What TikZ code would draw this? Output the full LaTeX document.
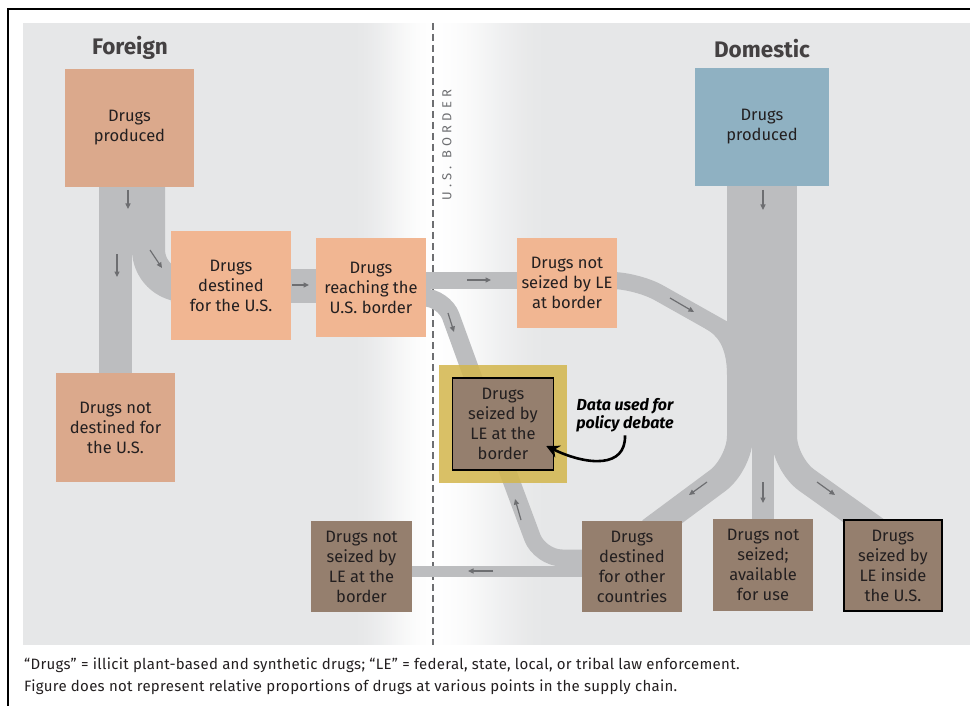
\documentclass[tikz,border=0pt]{standalone}
\usepackage{fontspec}
\setmainfont{Fira Sans}
\usetikzlibrary{positioning,arrows.meta,calc,backgrounds}

\definecolor{panel}{HTML}{E6E7E8}
\definecolor{stream}{HTML}{BCBDBF}
\definecolor{glyph}{HTML}{6D6E71}
\definecolor{ink}{HTML}{231F20}
\definecolor{fdark}{HTML}{DBA98C}
\definecolor{flight}{HTML}{F1B692}
\definecolor{dblue}{HTML}{8FB1C2}
\definecolor{brown}{HTML}{957F6E}
\definecolor{halo}{HTML}{D3B64C}
\colorlet{paper}{white!96!panel}

\pgfdeclarelayer{back}
\pgfsetlayers{back,background,main}

\tikzset{
  box/.style={rectangle, align=center, text=ink, inner sep=2pt},
  flow/.style={draw=stream, line cap=butt},
  flowtip/.style={draw=glyph, line width=1.2pt, -{Triangle[length=5.5pt,width=5pt]}},
  headline/.style={font=\fontsize{22.5}{26}\selectfont\bfseries, text=ink!85},
  note/.style={font=\fontsize{15}{17}\selectfont\addfontfeature{LetterSpace=2}, text=ink, anchor=west, inner sep=0pt},
}

\begin{document}
\begin{tikzpicture}[x=1pt, y=-1pt, font=\fontsize{16.5}{20}\selectfont]
\useasboundingbox (0,0) rectangle (970,706);

% panel and border fade
\begin{pgfonlayer}{back}
\fill[panel] (23,23) rectangle (970,645);
\foreach \i in {0,...,41} {
  \pgfmathsetmacro\t{\i/41}
  \pgfmathsetmacro\p{100*(1-(3*\t*\t-2*\t*\t*\t))}
  \fill[panel!\p!paper] (350+2*\i,23) rectangle (352.3+2*\i,645);
}
\foreach \i in {0,...,58} {
  \pgfmathsetmacro\t{\i/58}
  \pgfmathsetmacro\p{100*(3*\t*\t-2*\t*\t*\t)}
  \fill[panel!\p!paper] (433+2*\i,23) rectangle (435.3+2*\i,645);
}
\draw[glyph, line width=1.5pt, dash pattern=on 7pt off 4pt] (433,23) -- (433,645);
\draw[line width=1.2pt] (8,706) -- (8,9) -- (970,9);
\end{pgfonlayer}

\node[headline] (foreign) at (130,48) {Foreign};
\node[headline] (domestic) at (762,49) {Domestic};
\node[rotate=90, text=glyph, font=\fontsize{13}{16}\selectfont\addfontfeature{LetterSpace=32}] (border) at (447,145) {U.S. BORDER};

%% foreign side
\node[box, fill=fdark, minimum width=129pt, minimum height=118pt] (fprod) at (129.5,128) {Drugs\\produced};
\node[box, fill=flight, minimum width=120pt, minimum height=109pt] (fdest) at (231,285.5) {Drugs\\destined\\for the U.S.};
\node[box, fill=flight, minimum width=110pt, minimum height=99pt] (freach) at (371,287.5) {Drugs\\reaching the\\U.S. border};
\node[box, fill=fdark, minimum width=119pt, minimum height=109pt] (fnot) at (115.5,427.5) {Drugs not\\destined for\\the U.S.};

%% domestic side
\node[box, fill=dblue, minimum width=134pt, minimum height=118pt] (dprod) at (762,127) {Drugs\\produced};
\node[box, fill=flight, minimum width=100pt, minimum height=90pt] (nsb) at (567,283) {Drugs not\\seized by LE\\at border};
\node[fill=halo, fill opacity=.85, minimum width=128pt, minimum height=118pt] (halo) at (503,424) {};
\node[box, fill=brown, draw=black, line width=1.5pt, minimum width=101pt, minimum height=92pt] (seized) at (503,424) {Drugs\\seized by\\LE at the\\border};
\node[box, fill=brown, minimum width=101pt, minimum height=91pt] (nsl) at (361.5,566.5) {Drugs not\\seized by\\LE at the\\border};
\node[box, fill=brown, minimum width=100pt, minimum height=91pt] (other) at (632,566.5) {Drugs\\destined\\for other\\countries};
\node[box, fill=brown, minimum width=100pt, minimum height=92pt] (avail) at (763,565) {Drugs not\\seized;\\available\\for use};
\node[box, fill=brown, draw=black, line width=2pt, minimum width=98pt, minimum height=91pt] (inside) at (893,565.5) {Drugs\\seized by\\LE inside\\the U.S.};

\node[font=\fontsize{16}{18}\selectfont\bfseries\itshape, align=center, text=black] (policy) at (625,415) {Data used for\\policy debate};
\draw[line width=2.6pt, -{Stealth[length=13pt,width=13pt]}] (policy.south) .. controls (626,468) and (588,466) .. ([xshift=-8pt,yshift=-22pt]seized.east);

%% flows
\coordinate (fturn) at (148.5,187);
\coordinate (nsbin) at ($(nsb.west)+(0,-2.5)$);
\coordinate (nsbturn) at (637,280.5);
\coordinate (trunkjoin) at (765,352.5);
\coordinate (reachturn) at (444,297.5);
\coordinate (sbhide) at (483,405);
\coordinate (otherturn) at (540,558);
\coordinate (lowlane) at ($(other.west)+(0,5)$);
\coordinate (trunkend) at (762,440);
\coordinate (lsplit) at (740,410);
\coordinate (lbend) at (740,464);
\coordinate (msplit) at (763,420);
\coordinate (rsplit) at (784,410);
\coordinate (rbend) at (784,464);

\begin{scope}[on background layer]
\draw[flow, line width=33pt] (fprod.south -| fnot.north) -- (fnot.north);
\draw[flow, line width=33pt, rounded corners=36pt] (fturn) |- (fdest);
\draw[flow, line width=34pt] (fdest.east) -- (fdest.east -| freach.west);
\draw[flow, line width=17pt] (nsbin -| freach.east) -- (nsbin);
\draw[flow, line width=17pt, rounded corners=25pt] (nsbin -| nsb.east) -- (nsbturn) -- (trunkjoin);
\fill[stream] (705,328.3) .. controls (716,334.5) and (727,345) .. (727,375) -- (745,375) -- (745,330) -- cycle;
\draw[flow, line width=18pt, rounded corners=20pt] ([yshift=-10pt]freach.east) -- (reachturn) -- (sbhide);
\draw[flow, line width=17pt, rounded corners=22pt] (other.west |- otherturn) -- (otherturn) -- (sbhide);
\draw[flow, line width=11pt] (lowlane) -- (lowlane -| nsl.east);
\draw[flow, line width=70pt] (dprod.south) -- (trunkend);
\draw[flow, line width=26pt, rounded corners=28pt] (lsplit) -- (lbend) -- ([xshift=18pt,yshift=-10pt]other.north);
\draw[flow, line width=22pt] (msplit) -- (avail.north);
\draw[flow, line width=26pt, rounded corners=28pt] (rsplit) -- (rbend) -- ([xshift=-15pt,yshift=-12pt]inside.north);
% direction marks
\draw[flowtip] (128,190) -- (128,209);
\draw[flowtip] (117,254) -- (117,277);
\draw[flowtip] (150,250) -- (162,268);
\draw[flowtip] (292,285) -- (309,285);
\draw[flowtip] (467,280) -- (491,280);
\draw[flowtip] (448,313) -- (454,332);
\draw[flowtip] (670,298) -- (694,312);
\draw[flowtip] (763,190) -- (763,210);
\draw[flowtip] (707,482) -- (689,495);
\draw[flowtip] (763,482) -- (763,503);
\draw[flowtip] (817,482) -- (835,495);
\draw[flowtip] (521,520) -- (515,499);
\draw[flowtip] (493,571) -- (468,571);
\end{scope}

\node[note] (note1) at (24,665) {“Drugs” = illicit plant-based and synthetic drugs; “LE” = federal, state, local, or tribal law enforcement.};
\node[note, below=7pt of note1.south west, anchor=north west] (note2) {Figure does not represent relative proportions of drugs at various points in the supply chain.};
\end{tikzpicture}
\end{document}
